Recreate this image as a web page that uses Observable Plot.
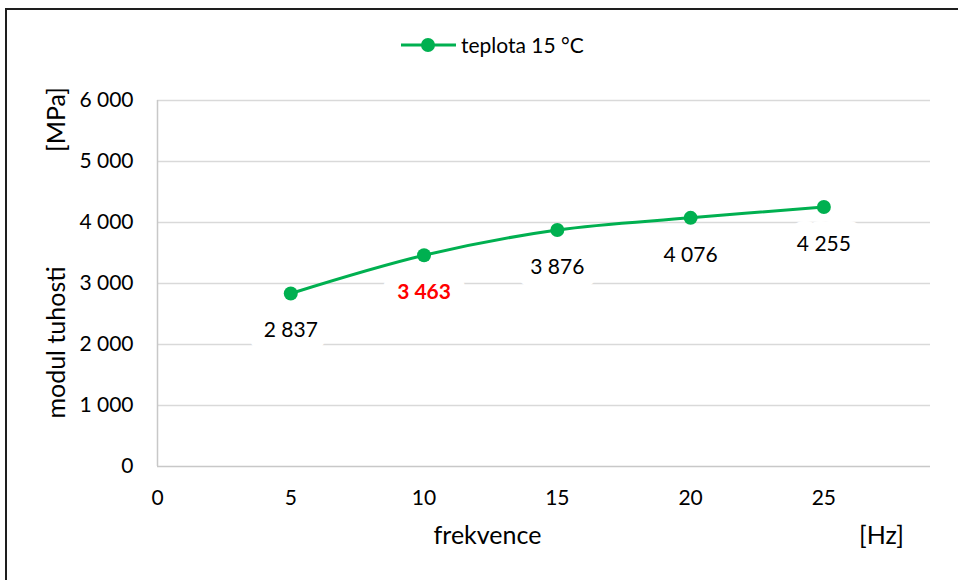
<!DOCTYPE html>
<html>
<head>
<meta charset="utf-8">
<script src="https://cdn.jsdelivr.net/npm/d3@7"></script>
<script src="https://cdn.jsdelivr.net/npm/@observablehq/plot@0.6"></script>
<style>
  body { margin: 0; background: #fff; overflow: hidden; font-family: Lato, "Open Sans", sans-serif; }
  #wrap { position: relative; width: 958px; height: 580px; overflow: hidden; }
  #frame { position: absolute; left: 5px; top: 8px; width: 1000px; height: 1000px;
           border: 2px solid #1e1e1e; box-sizing: border-box; pointer-events: none; }
  #chart { position: absolute; left: 0; top: 0; }
  #legend { position: absolute; top: 34px; left: 401px; display: flex; align-items: center;
            font-size: 21px; color: #000; line-height: 1; }
  #legend svg { display: block; margin-right: 4px; }
</style>
</head>
<body>
<div id="wrap">
  <div id="chart"></div>
  <div id="legend"></div>
  <div id="frame"></div>
</div>
<script>
// Stiffness modulus measured at 15 °C for each loading frequency
const frequencies = [5, 10, 15, 20, 25];          // Hz
const modulus = [2837, 3463, 3876, 4076, 4255];   // MPa
const seriesName = "teplota 15 °C";
const highlightedFrequency = 10;

const xTicks = [0, 5, 10, 15, 20, 25];
const yTicks = [0, 1000, 2000, 3000, 4000, 5000, 6000];

const xTitle = "frekvence";
const xUnit = "[Hz]";
const yTitle = "modul tuhosti";
const yUnit = "[MPa]";

const green = "#00b050";
const fontSize = 21;
const titleSize = 25;

// Czech-style number formatting: space as thousands separator
const czech = d3.formatLocale({ decimal: ",", thousands: "\u00a0", grouping: [3], currency: ["", " Kč"] });
const fmt = czech.format(",d");

const data = frequencies.map((f, i) => ({ f, v: modulus[i] }));
const plain = data.filter(d => d.f !== highlightedFrequency);
const marked = data.filter(d => d.f === highlightedFrequency);

const labelOpts = {
  x: "f", y: "v", text: d => fmt(d.v), dy: 37,
  stroke: "white", strokeWidth: 30, paintOrder: "stroke", fontSize
};

const chart = Plot.plot({
  width: 958,
  height: 580,
  marginLeft: 157,
  marginRight: 28,
  marginTop: 100,
  marginBottom: 114,
  style: { fontFamily: "Lato, 'Open Sans', sans-serif", fontSize: `${fontSize}px`, color: "#000", background: "transparent" },
  x: { domain: [0, 29] },
  y: { domain: [0, 6000] },
  marks: [
    Plot.gridY(yTicks.filter(t => t > 0), { stroke: "#d9d9d9", strokeOpacity: 1, strokeWidth: 1.5 }),
    Plot.ruleY([0], { stroke: "#c8c8c8", strokeWidth: 1.5 }),
    Plot.ruleX([0], { y1: 0, y2: 6000, stroke: "#c8c8c8", strokeWidth: 1.5 }),
    Plot.axisY({ ticks: yTicks, tickSize: 0, tickPadding: 24, tickFormat: fmt, label: null, fontSize }),
    Plot.axisX({ ticks: xTicks, tickSize: 0, tickPadding: 24, tickFormat: d => String(d), label: null, fontSize }),
    Plot.text(plain, { ...labelOpts, fill: "#000" }),
    Plot.text(marked, { ...labelOpts, fill: "#ff0000", fontWeight: "bold" }),
    Plot.line(data, { x: "f", y: "v", stroke: green, strokeWidth: 3, curve: "catmull-rom" }),
    Plot.dot(data, { x: "f", y: "v", r: 7, fill: green, stroke: "none" }),
    Plot.text([yTitle], { frameAnchor: "top-left", rotate: -90, dx: -110, dy: 242, textAnchor: "middle", fontSize: titleSize }),
    Plot.text([yUnit], { frameAnchor: "top-left", rotate: -90, dx: -110, dy: 19, textAnchor: "middle", fontSize: titleSize }),
    Plot.text([xTitle], { frameAnchor: "bottom-left", dx: 330, dy: 77, textAnchor: "middle", fontSize: titleSize }),
    Plot.text([xUnit], { frameAnchor: "bottom-left", dx: 724, dy: 77, textAnchor: "middle", fontSize: titleSize })
  ]
});
document.getElementById("chart").appendChild(chart);

// Legend: line-with-marker swatch followed by the series name
const legend = document.getElementById("legend");
legend.innerHTML =
  `<svg width="56" height="16" viewBox="0 0 56 16">
     <line x1="0" y1="8" x2="55" y2="8" stroke="${green}" stroke-width="3"/>
     <circle cx="27" cy="8" r="7" fill="${green}"/>
   </svg><span>${seriesName}</span>`;
</script>
</body>
</html>
